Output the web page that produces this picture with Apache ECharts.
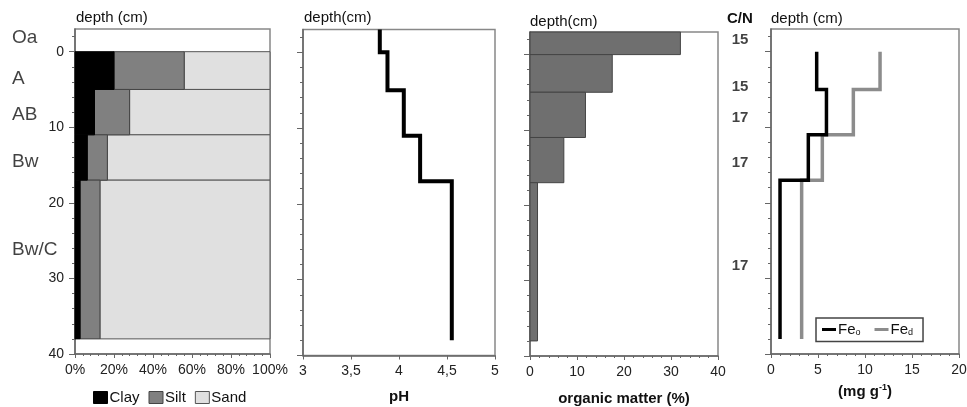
<!DOCTYPE html>
<html><head><meta charset="utf-8">
<script src="https://cdn.jsdelivr.net/npm/echarts@6/dist/echarts.min.js"></script>
<style>html,body{margin:0;padding:0;background:#fff}#c{width:967px;height:407px}</style>
</head><body><div id="c"></div>
<script>
// ---- data ----
const layerTop = [-3, 0, 5, 11, 17];
const layerBottom = [0, 5, 11, 17, 38];
// texture for mineral layers (0-5, 5-11, 11-17, 17-38 cm), %
const clay = [20, 10, 6.3, 2.6];
const silt = [36, 18, 10.3, 10.2];
// profile values for all layers (-3-0, 0-5, 5-11, 11-17, 17-38 cm)
const pH = [3.8, 3.88, 4.05, 4.22, 4.55];
const organicMatter = [32, 17.5, 11.8, 7.2, 1.6];
// iron, mineral layers only (mg g-1)
const feo = [4.86, 5.9, 3.97, 0.96];
const fed = [11.6, 8.76, 5.46, 3.26];
const horizons = ['Oa', 'A', 'AB', 'Bw', 'Bw/C'];
const horizonLabelDepth = [-1.8, 3.6, 8.4, 14.6, 26.2];
const cnRatio = [15, 15, 17, 17, 17];
const cnLabelDepth = [-1.5, 4.6, 8.8, 14.7, 28.3];
const depthTicks = [0, 10, 20, 30, 40];
const depthMinorTicks = [-2, 2, 4, 6, 8, 12, 14, 16, 18, 22, 24, 26, 28, 32, 34, 36, 38];

const FONT = '"Liberation Sans", Arial, sans-serif';
const AX = '#666';

// ---- derived ----
const mineralTop = layerTop.slice(1), mineralBottom = layerBottom.slice(1);
const clayRects = clay.map((c, i) => [0, c, mineralTop[i], mineralBottom[i]]);
const siltRects = silt.map((s, i) => [clay[i], clay[i] + s, mineralTop[i], mineralBottom[i]]);
const sandRects = silt.map((s, i) => [clay[i] + s, 100, mineralTop[i], mineralBottom[i]]);
const omRects = organicMatter.map((v, i) => [0, v, layerTop[i], layerBottom[i]]);
function stepPoints(vals, tops, bottoms) {
  const pts = [];
  vals.forEach((v, i) => { pts.push([v, tops[i]]); pts.push([v, bottoms[i]]); });
  return pts;
}

function rectRenderer(fill, stroke) {
  return function (params, api) {
    const p0 = api.coord([api.value(0), api.value(2)]);
    const p1 = api.coord([api.value(1), api.value(3)]);
    return {
      type: 'rect',
      shape: { x: p0[0], y: p0[1], width: p1[0] - p0[0], height: p1[1] - p0[1] },
      style: { fill: fill, stroke: stroke, lineWidth: 1 }
    };
  };
}

const grids = [
  { left: 12, top: 29, width: 45, height: 325 },   // 0 horizon labels
  { left: 75, top: 29, width: 195, height: 325 },  // 1 texture
  { left: 303, top: 29.5, width: 192, height: 326 }, // 2 pH
  { left: 530, top: 32, width: 188, height: 324 }, // 3 organic matter
  { left: 771, top: 29, width: 188, height: 325 }, // 4 Fe
  { left: 725, top: 29, width: 30, height: 325 }   // 5 C/N
].map((g, i) => Object.assign(g, {
  show: i >= 1 && i <= 4, borderColor: '#888', borderWidth: 1.5, backgroundColor: 'transparent',
  containLabel: false, outerBoundsMode: 'none'
}));

const labelStyle = { fontFamily: FONT, fontSize: 14, color: '#222' };
const nameStyle = { fontFamily: FONT, fontSize: 15, fontWeight: 'bold', color: '#111' };

function xAxisFor(k, min, max, interval, fmt, minor, name, extra) {
  return Object.assign({
    gridIndex: k, type: 'value', min: min, max: max, interval: interval, position: 'bottom',
    axisLine: { show: true, onZero: false, lineStyle: { color: AX, width: 1.5 } },
    axisTick: { show: true, length: 4, lineStyle: { color: AX } },
    minorTick: { show: minor, splitNumber: 5, length: 2, lineStyle: { color: AX } },
    axisLabel: Object.assign({ margin: 9, formatter: fmt }, labelStyle),
    splitLine: { show: false }, minorSplitLine: { show: false },
    name: name || '', nameLocation: 'middle', nameGap: 34, nameTextStyle: nameStyle
  }, extra || {});
}
function yAxisFor(k, showLabels) {
  return {
    gridIndex: k, type: 'value', inverse: true, min: -3, max: 40, position: 'left',
    axisLine: { show: true, onZero: false, lineStyle: { color: AX, width: 1.5 } },
    axisTick: { show: true, customValues: depthTicks, length: 6, lineStyle: { color: AX } },
    axisLabel: Object.assign({ show: showLabels, customValues: depthTicks, margin: 11 }, labelStyle),
    splitLine: { show: false }
  };
}
function yMinorFor(k) {
  return {
    gridIndex: k, type: 'value', inverse: true, min: -3, max: 40, position: 'left', offset: 0,
    axisLine: { show: false, onZero: false },
    axisTick: { show: true, customValues: depthMinorTicks, length: 3, lineStyle: { color: AX } },
    axisLabel: { show: false }, splitLine: { show: false }
  };
}
function hiddenX(k) { return { gridIndex: k, type: 'value', min: 0, max: 1, show: false, axisLine: { onZero: false } }; }
function hiddenY(k) { return { gridIndex: k, type: 'value', inverse: true, min: -3, max: 40, show: false, axisLine: { onZero: false } }; }

const xAxes = [
  hiddenX(0),
  xAxisFor(1, 0, 100, 20, '{value}%', true),
  xAxisFor(2, 3, 5, 0.5, v => String(v).replace('.', ','), false, 'pH'),
  xAxisFor(3, 0, 40, 10, '{value}', true, 'organic matter (%)', { nameGap: 35 }),
  xAxisFor(4, 0, 20, 5, '{value}', true, '{a|(mg g}{s|-1}{a|)}', {
    nameGap: 29,
    nameTextStyle: Object.assign({}, nameStyle, {
      rich: {
        a: { fontFamily: FONT, fontSize: 15, fontWeight: 'bold', color: '#111' },
        s: { fontFamily: FONT, fontSize: 9, fontWeight: 'bold', color: '#111', padding: [0, 0, 9, 0] }
      }
    })
  }),
  hiddenX(5)
];
const yAxes = [
  hiddenY(0), yAxisFor(1, true), yAxisFor(2, false), yAxisFor(3, false), yAxisFor(4, false), hiddenY(5),
  yMinorFor(1), yMinorFor(2), yMinorFor(3), yMinorFor(4)
];

const series = [
  {
    name: 'Horizons', type: 'scatter', xAxisIndex: 0, yAxisIndex: 0, symbolSize: 0.1,
    itemStyle: { color: 'transparent' }, silent: true,
    data: horizons.map((h, i) => [0, horizonLabelDepth[i], h]),
    label: { show: true, position: 'right', distance: 0, formatter: p => p.data[2],
      fontFamily: FONT, fontSize: 19, color: '#111' }
  },
  { name: 'Sand', type: 'custom', xAxisIndex: 1, yAxisIndex: 1, data: sandRects,
    encode: { x: [0, 1], y: [2, 3] }, itemStyle: { color: '#e0e0e0' }, renderItem: rectRenderer('#e0e0e0', '#555') },
  { name: 'Silt', type: 'custom', xAxisIndex: 1, yAxisIndex: 1, data: siltRects,
    encode: { x: [0, 1], y: [2, 3] }, itemStyle: { color: '#808080' }, renderItem: rectRenderer('#808080', '#444') },
  { name: 'Clay', type: 'custom', xAxisIndex: 1, yAxisIndex: 1, data: clayRects,
    encode: { x: [0, 1], y: [2, 3] }, itemStyle: { color: '#000' }, renderItem: rectRenderer('#000', '#000') },
  { name: 'pH', type: 'line', xAxisIndex: 2, yAxisIndex: 2, data: stepPoints(pH, layerTop, layerBottom),
    symbol: 'none', color: '#000', lineStyle: { color: '#000', width: 4, cap: 'butt', join: 'miter' } },
  { name: 'OM', type: 'custom', xAxisIndex: 3, yAxisIndex: 3, data: omRects,
    encode: { x: [0, 1], y: [2, 3] }, renderItem: rectRenderer('#6f6f6f', '#444') },
  { name: 'Fed', type: 'line', xAxisIndex: 4, yAxisIndex: 4,
    data: stepPoints(fed, mineralTop, mineralBottom), symbol: 'none', color: '#8c8c8c',
    itemStyle: { color: '#8c8c8c' }, lineStyle: { color: '#8c8c8c', width: 3.5, cap: 'butt', join: 'miter' } },
  { name: 'Feo', type: 'line', xAxisIndex: 4, yAxisIndex: 4,
    data: stepPoints(feo, mineralTop, mineralBottom), symbol: 'none', color: '#000',
    itemStyle: { color: '#000' }, lineStyle: { color: '#000', width: 3.5, cap: 'butt', join: 'miter' } },
  {
    name: 'CN', type: 'scatter', xAxisIndex: 5, yAxisIndex: 5, symbolSize: 0.1,
    itemStyle: { color: 'transparent' }, silent: true,
    data: cnRatio.map((v, i) => [0.5, cnLabelDepth[i], v]),
    label: { show: true, position: 'inside', formatter: p => String(p.data[2]),
      fontFamily: FONT, fontSize: 15, fontWeight: 'bold', color: '#111' }
  }
];

const option = {
  animation: false,
  backgroundColor: '#fff',
  textStyle: { fontFamily: FONT },
  grid: grids,
  xAxis: xAxes,
  yAxis: yAxes,
  legend: [
    {
      data: [
        { name: 'Clay', itemStyle: { color: '#000', borderColor: '#000', borderWidth: 1 } },
        { name: 'Silt', itemStyle: { color: '#808080', borderColor: '#444', borderWidth: 1 } },
        { name: 'Sand', itemStyle: { color: '#e0e0e0', borderColor: '#555', borderWidth: 1 } }
      ],
      left: 88, top: 385, icon: 'rect', itemWidth: 14, itemHeight: 12, itemGap: 9,
      selectedMode: false,
      textStyle: { fontFamily: FONT, fontSize: 15, color: '#111', padding: [0, 0, 0, -3] }
    },
    {
      data: [
        { name: 'Feo', itemStyle: { color: '#000' } },
        { name: 'Fed', itemStyle: { color: '#8c8c8c' } }
      ],
      left: 816, top: 318, icon: 'rect', itemWidth: 14, itemHeight: 3, itemGap: 14,
      padding: [4, 10, 4, 6], borderColor: '#444', borderWidth: 1.5, backgroundColor: '#fff',
      selectedMode: false,
      formatter: n => n === 'Feo' ? '{m|Fe}{s|o}' : '{m|Fe}{s|d}',
      textStyle: {
        fontFamily: FONT, fontSize: 15, color: '#111', padding: [0, 0, 0, -3],
        rich: {
          m: { fontFamily: FONT, fontSize: 15, color: '#111' },
          s: { fontFamily: FONT, fontSize: 9, color: '#111', padding: [7, 0, 0, 0] }
        }
      }
    }
  ],
  graphic: [
    { type: 'text', left: 76, top: 10, style: { text: 'depth (cm)', font: '15px ' + FONT, fill: '#111' } },
    { type: 'text', left: 304, top: 10, style: { text: 'depth(cm)', font: '15px ' + FONT, fill: '#111' } },
    { type: 'text', left: 530, top: 14, style: { text: 'depth(cm)', font: '15px ' + FONT, fill: '#111' } },
    { type: 'text', left: 727, top: 11, style: { text: 'C/N', font: 'bold 15px ' + FONT, fill: '#111' } },
    { type: 'text', left: 771, top: 11, style: { text: 'depth (cm)', font: '15px ' + FONT, fill: '#111' } }
  ],
  series: series
};

const chart = echarts.init(document.getElementById('c'), null, { renderer: 'canvas' });
chart.setOption(option);
</script>
</body></html>
